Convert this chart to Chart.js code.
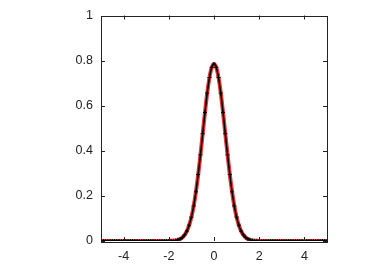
<!DOCTYPE html>
<html>
<head>
<meta charset="utf-8">
<script src="https://cdn.jsdelivr.net/npm/chart.js@4"></script>
<style>
  html, body { margin: 0; padding: 0; background: #fff; }
  #wrap { width: 382px; height: 267px; }
</style>
</head>
<body>
<div id="wrap"><canvas id="densityChart"></canvas></div>
<script>
// sample positions, step 0.1 from -5 to 5
const xValues = [
    -5.0, -4.9, -4.8, -4.7, -4.6, -4.5, -4.4, -4.3, -4.2, -4.1,
    -4.0, -3.9, -3.8, -3.7, -3.6, -3.5, -3.4, -3.3, -3.2, -3.1,
    -3.0, -2.9, -2.8, -2.7, -2.6, -2.5, -2.4, -2.3, -2.2, -2.1,
    -2.0, -1.9, -1.8, -1.7, -1.6, -1.5, -1.4, -1.3, -1.2, -1.1,
    -1.0, -0.9, -0.8, -0.7, -0.6, -0.5, -0.4, -0.3, -0.2, -0.1,
    0.0,
    0.1, 0.2, 0.3, 0.4, 0.5, 0.6, 0.7, 0.8, 0.9, 1.0,
    1.1, 1.2, 1.3, 1.4, 1.5, 1.6, 1.7, 1.8, 1.9, 2.0,
    2.1, 2.2, 2.3, 2.4, 2.5, 2.6, 2.7, 2.8, 2.9, 3.0,
    3.1, 3.2, 3.3, 3.4, 3.5, 3.6, 3.7, 3.8, 3.9, 4.0,
    4.1, 4.2, 4.3, 4.4, 4.5, 4.6, 4.7, 4.8, 4.9, 5.0
];

// density at each position
const densityValues = [
    0, 0, 0, 0, 0, 0, 0, 0, 0, 0,
    0, 0, 0, 0, 0, 0, 0, 0, 0, 0,
    0, 0, 0, 0, 0, 0, 0, 0, 0, 0,
    0, 0.001, 0.001, 0.002, 0.005, 0.009, 0.016, 0.027, 0.044, 0.070,
    0.106, 0.155, 0.218, 0.295, 0.382, 0.476, 0.570, 0.656, 0.725, 0.770,
    0.785,
    0.770, 0.725, 0.656, 0.570, 0.476, 0.382, 0.295, 0.218, 0.155, 0.106,
    0.070, 0.044, 0.027, 0.016, 0.009, 0.005, 0.002, 0.001, 0.001, 0,
    0, 0, 0, 0, 0, 0, 0, 0, 0, 0,
    0, 0, 0, 0, 0, 0, 0, 0, 0, 0,
    0, 0, 0, 0, 0, 0, 0, 0, 0, 0
];

const xTicks = [-4, -2, 0, 2, 4];
const yTicks = [0, 0.2, 0.4, 0.6, 0.8, 1];

const points = xValues.map((x, i) => ({ x: x, y: densityValues[i] }));

// inside tick marks on all four sides plus the frame
const frameTicks = {
    id: 'frameTicks',
    afterDatasetsDraw(chart) {
        const { ctx, chartArea: a, scales } = chart;
        ctx.save();
        ctx.strokeStyle = '#222';
        ctx.lineWidth = 1;
        ctx.beginPath();
        xTicks.forEach(v => {
            const px = Math.round(scales.x.getPixelForValue(v)) + 0.5;
            ctx.moveTo(px, a.bottom); ctx.lineTo(px, a.bottom - 4);
            ctx.moveTo(px, a.top); ctx.lineTo(px, a.top + 4);
        });
        yTicks.forEach(v => {
            const py = Math.round(scales.y.getPixelForValue(v)) + 0.5;
            ctx.moveTo(a.left, py); ctx.lineTo(a.left + 4, py);
            ctx.moveTo(a.right, py); ctx.lineTo(a.right - 4, py);
        });
        ctx.stroke();
        ctx.strokeRect(Math.round(a.left) + 0.5, Math.round(a.top) + 0.5,
                       Math.round(a.right - a.left), Math.round(a.bottom - a.top));
        ctx.restore();
    }
};

const ctx = document.getElementById('densityChart').getContext('2d');
new Chart(ctx, {
    type: 'line',
    data: {
        datasets: [
            {
                label: 'samples',
                data: points,
                borderColor: '#000',
                borderWidth: 1.5,
                pointStyle: 'cross',
                pointRadius: 2,
                pointBorderColor: '#000',
                pointBorderWidth: 1,
                tension: 0.3
            },
            {
                label: 'density',
                data: points,
                borderColor: 'rgba(228, 0, 0, 0.8)',
                borderWidth: 4,
                pointRadius: 0,
                tension: 0.3
            }
        ]
    },
    options: {
        responsive: true,
        maintainAspectRatio: false,
        animation: false,
        layout: { padding: { top: 15, right: 55, left: 0, bottom: 0 } },
        plugins: { legend: { display: false }, tooltip: { enabled: false } },
        scales: {
            x: {
                type: 'linear',
                min: -5,
                max: 5,
                afterBuildTicks: s => { s.ticks = xTicks.map(v => ({ value: v })); },
                afterFit: s => { s.height = 26; },
                grid: { display: false, drawTicks: false },
                border: { display: false },
                ticks: {
                    padding: 8,
                    color: '#222',
                    font: { family: 'Liberation Sans', size: 12.5 },
                    maxRotation: 0
                }
            },
            y: {
                min: 0,
                max: 1,
                afterBuildTicks: s => { s.ticks = yTicks.map(v => ({ value: v })); },
                afterFit: s => { s.width = 101; },
                grid: { display: false, drawTicks: false },
                border: { display: false },
                ticks: {
                    padding: 8,
                    color: '#222',
                    font: { family: 'Liberation Sans', size: 12.5 },
                    callback: v => String(v)
                }
            }
        }
    },
    plugins: [frameTicks]
});
</script>
</body>
</html>
